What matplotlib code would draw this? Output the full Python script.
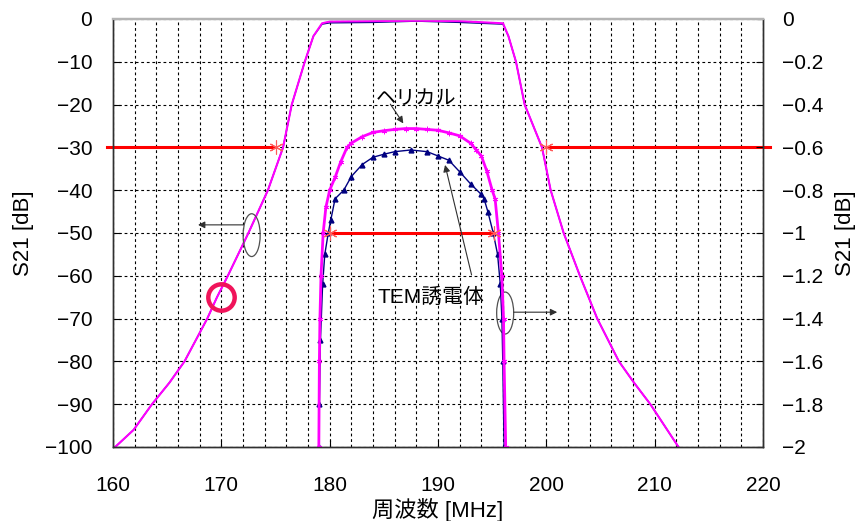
import numpy as np
import matplotlib
matplotlib.use("Agg")
from matplotlib import pyplot as plt
from matplotlib.patches import Ellipse

plt.rcParams['font.family'] = ['Liberation Sans', 'Noto Sans CJK JP', 'DejaVu Sans']

# wide filter response (left axis, dB)
outer_freq = [160.2, 161.9, 163.6, 165.2, 166.6, 168.7, 169.6, 170.6, 172.5, 174.3, 175.7, 176.5, 177.7,
              178.5, 179.3, 180.0, 184.0, 188.0, 192.0, 196.0, 196.5, 197.2, 198.0,
              199.6, 200.4, 201.6, 203.1, 204.7, 206.7, 208.1, 209.6, 212.2]
outer_helical_db = [-100, -96, -90, -85, -80, -70, -65, -60, -50, -40, -30, -20, -10,
                    -4, -1, -0.6, -0.5, -0.4, -0.5, -1, -4, -10, -20,
                    -30, -40, -50, -60, -70, -80, -85, -90, -100]
outer_tem_db = [-100, -96, -90, -85, -80, -70, -65, -60, -50, -40, -30, -20, -10,
                -4, -1.2, -0.9, -0.8, -0.5, -0.8, -1.2, -4, -10, -20,
                -30, -40, -50, -60, -70, -80, -85, -90, -100]

# insertion loss (right axis, dB)
hel_freq = [179.0, 179.05, 179.1, 179.2, 179.4, 179.65, 180.0, 180.5, 181.0, 181.6, 182.0, 183.0,
            184.0, 185.0, 186.0, 187.0, 188.0, 189.0, 190.0, 191.0, 192.0, 193.0, 193.5,
            194.0, 194.5, 195.0, 195.27, 195.58, 195.89, 196.05, 196.1, 196.25]
hel_db = [-2.0, -1.6, -1.4, -1.2, -1.0, -0.88, -0.8, -0.74, -0.67, -0.6, -0.58, -0.55,
          -0.53, -0.522, -0.516, -0.512, -0.512, -0.516, -0.52, -0.532, -0.546, -0.58, -0.61,
          -0.64, -0.71, -0.8, -0.84, -1.0, -1.2, -1.4, -1.6, -2.0]

tem_freq = [179.0, 179.05, 179.15, 179.35, 179.55, 179.87, 180.1, 180.5, 181.3, 182.0, 183.0,
            184.0, 185.0, 186.0, 187.5, 189.0, 190.0, 191.0, 192.0, 193.0, 194.0, 194.25,
            194.6, 195.1, 195.5, 195.75, 195.9, 195.98, 196.1]
tem_db = [-2.0, -1.8, -1.5, -1.24, -1.1, -1.0, -0.94, -0.84, -0.8, -0.736, -0.68,
          -0.646, -0.632, -0.62, -0.612, -0.62, -0.64, -0.66, -0.714, -0.77, -0.82, -0.84,
          -0.9, -1.0, -1.1, -1.24, -1.4, -1.6, -2.0]

# -30 dB points and -1 dB bandwidth
spec_left_freq = [159.4, 175.0]
spec_right_freq = [200.0, 220.6]
spec_level = -30
bw_freq = [180.0, 195.2]
bw_level = -1.0

mark_freq = [170.0]
mark_db = [-65.0]

left_ticks = list(range(0, -101, -10))
right_ticks = [0, -0.2, -0.4, -0.6, -0.8, -1, -1.2, -1.4, -1.6, -1.8, -2]

fig = plt.figure(figsize=(8.58, 5.21), dpi=100)
ax = fig.add_axes([113 / 858, 1 - 447 / 521, 650 / 858, 428 / 521])
ax2 = ax.twinx()

ax.set_xlim(160, 220)
ax.set_ylim(-100, 0)
ax2.set_ylim(-2, 0)

ax.set_xticks(range(160, 221, 10))
ax.set_xticks(range(160, 221, 2), minor=True)
ax.set_yticks(left_ticks)
ax.set_yticklabels([str(t).replace('-', '\u2212') for t in left_ticks])
ax2.set_yticks(right_ticks)
ax2.set_yticklabels(['{:g}'.format(t).replace('-', '\u2212') for t in right_ticks])

ax.grid(True, which='both', axis='x', color='black', linestyle=(0, (2.5, 2.5)), linewidth=0.8)
ax.grid(True, which='major', axis='y', color='black', linestyle=(0, (2.5, 2.5)), linewidth=0.8)
ax.set_axisbelow(True)

ax.tick_params(axis='x', which='major', direction='in', length=5, labelsize=15, pad=21)
ax.tick_params(axis='x', which='minor', length=0)
ax.tick_params(axis='y', direction='in', length=5, labelsize=15, pad=15)
ax2.tick_params(axis='y', direction='in', length=5, labelsize=15, pad=14)

for a in (ax, ax2):
    a.spines['top'].set_color('#b4b4b4')
    a.spines['top'].set_linewidth(1.6)
    for s in ('left', 'right', 'bottom'):
        a.spines[s].set_color('#303030')
        a.spines[s].set_linewidth(1.0)

# wide responses
ax.plot(outer_freq, outer_tem_db, color='#000080', linewidth=1.0)
ax.plot(outer_freq, outer_helical_db, color='#ff00ff', linewidth=1.5)

# insertion loss curves
ax2.plot(tem_freq, tem_db, color='#000080', linewidth=1.0, marker='^', markersize=3.5)
ax2.plot(hel_freq, hel_db, color='#ff00ff', linewidth=2.0, marker=(6, 2, 0),
         markersize=4, markeredgewidth=0.6)

# red spec lines
ax.plot(spec_left_freq, [spec_level] * 2, color='red', linewidth=2.2, clip_on=False)
ax.plot(spec_right_freq, [spec_level] * 2, color='red', linewidth=2.2, clip_on=False)
ax.plot([spec_left_freq[1], spec_right_freq[0]], [spec_level] * 2, linestyle='none',
        marker=(6, 2, 0), markersize=10, markeredgewidth=0.8, color='#ff5a5a')
ax2.plot(bw_freq, [bw_level] * 2, color='red', linewidth=2.2)
ax2.plot(bw_freq, [bw_level] * 2, linestyle='none', marker=(6, 2, 0), markersize=10,
         markeredgewidth=0.8, color='#ff5a5a')

# red ring
ax2.plot(mark_freq, [v / 50 for v in mark_db], linestyle='none', marker='o', markersize=19,
         markerfacecolor='none', markeredgecolor='#f0145a', markeredgewidth=3.2)

# annotations
arrow = dict(arrowstyle='-|>', color='#303030', lw=0.8, mutation_scale=10, shrinkA=0, shrinkB=0)
ax2.text(188.0, -18.5 / 50, 'ヘリカル', fontsize=14.5, ha='center', va='center')
ax2.annotate('', xy=(186.8, -24.4 / 50), xytext=(185.6, -19.9 / 50), arrowprops=arrow)
ax2.text(189.35, -65 / 50, 'TEM誘電体', fontsize=15, ha='center', va='center')
ax2.annotate('', xy=(190.65, -34.1 / 50), xytext=(193.1, -59.8 / 50), arrowprops=arrow)

ax2.add_patch(Ellipse((172.8, -50.5 / 50), 1.57, 10 / 50, fill=False, edgecolor='#505050', lw=0.9))
ax2.annotate('', xy=(167.85, -48.1 / 50), xytext=(172.0, -48.1 / 50), arrowprops=arrow)
ax2.add_patch(Ellipse((196.2, -68.7 / 50), 1.57, 9.8 / 50, fill=False, edgecolor='#505050', lw=0.9))
ax2.annotate('', xy=(201.0, -68.5 / 50), xytext=(197.0, -68.5 / 50), arrowprops=arrow)

fig.text(24 / 858, 1 - 233 / 521, 'S21 [dB]', rotation=90, ha='center', va='center', fontsize=16)
fig.text(846 / 858, 1 - 233 / 521, 'S21 [dB]', rotation=90, ha='center', va='center', fontsize=16)
fig.text(438 / 858, 1 - 510 / 521, '周波数 [MHz]', ha='center', va='center', fontsize=16)

fig.savefig('out.png', dpi=100)
